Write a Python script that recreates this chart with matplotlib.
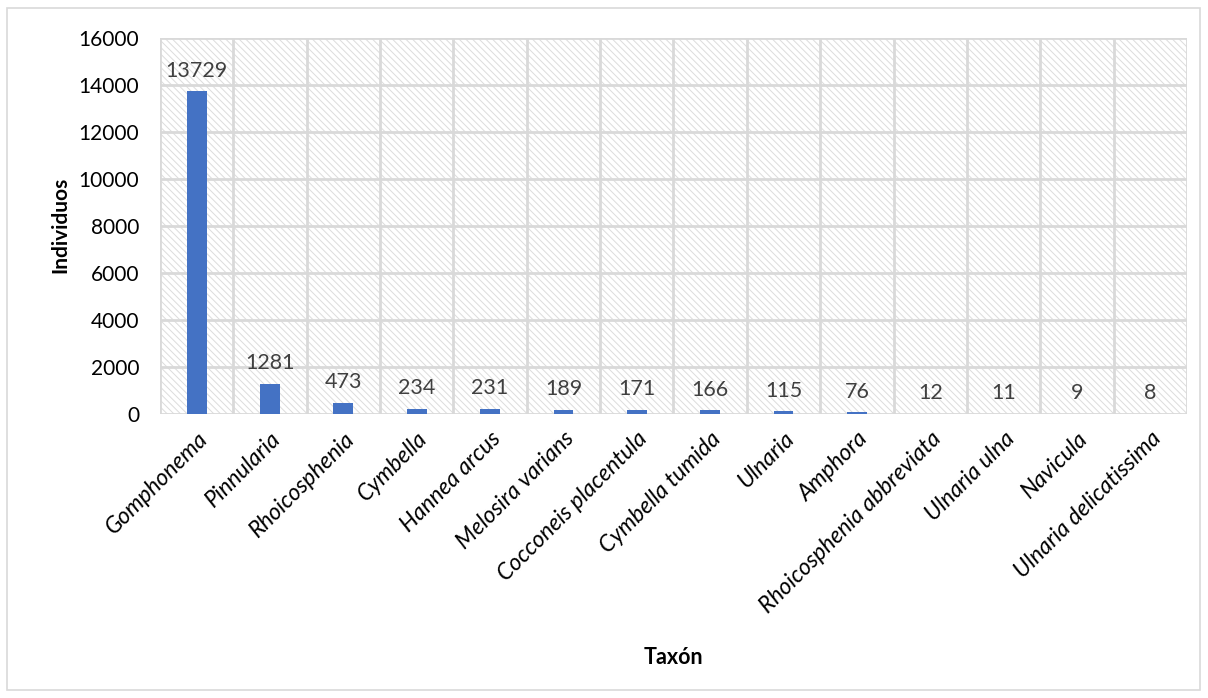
import matplotlib
matplotlib.use("Agg")
import matplotlib.pyplot as plt
from matplotlib.patches import Rectangle

taxa = ["Gomphonema", "Pinnularia", "Rhoicosphenia", "Cymbella", "Hannea arcus",
        "Melosira varians", "Cocconeis placentula", "Cymbella tumida", "Ulnaria",
        "Amphora", "Rhoicosphenia abbreviata", "Ulnaria ulna", "Navicula",
        "Ulnaria delicatissima"]
individuos = [13729, 1281, 473, 234, 231, 189, 171, 166, 115, 76, 12, 11, 9, 8]
yticks = [0, 2000, 4000, 6000, 8000, 10000, 12000, 14000, 16000]

plt.rcParams["font.family"] = ["Lato", "DejaVu Sans"]
plt.rcParams["hatch.linewidth"] = 0.7
grid_c = "#d9d9d9"

fig = plt.figure(figsize=(12.08, 6.98), dpi=100)
ax = fig.add_axes([160 / 1208, 1 - 414 / 698, 1027 / 1208, 376 / 698])

# hatched plot-area background
bg = Rectangle((0, 0), 1, 1, transform=ax.transAxes, facecolor="white",
               edgecolor="#dcdcdc", hatch="\\\\\\\\\\", linewidth=0, zorder=0)
ax.add_patch(bg)

x = list(range(len(taxa)))
ax.bar(x, individuos, width=0.27, color="#4472c4", zorder=3)
for xi, v in zip(x, individuos):
    ax.text(xi, v + 450, str(v), ha="center", va="bottom", fontsize=15.5,
            color="#404040", zorder=4)

ax.set_xlim(-0.5, len(taxa) - 0.5)
ax.set_ylim(0, 16000)
ax.set_yticks(yticks)
ax.set_yticklabels([str(t) for t in yticks], fontsize=15)
for t in yticks[1:]:
    ax.axhline(t, color=grid_c, lw=2, zorder=1)
for b in range(len(taxa) + 1):
    ax.axvline(b - 0.5, color=grid_c, lw=2, zorder=1)

ax.set_xticks(x)
ax.set_xticklabels(taxa, rotation=45, ha="right", rotation_mode="anchor",
                   fontsize=16.5, style="italic")
ax.tick_params(axis="y", length=0, pad=15)
ax.tick_params(axis="x", length=0, pad=10)
for s in ax.spines.values():
    s.set_visible(False)
ax.axhline(0, color=grid_c, lw=2, zorder=2)

fig.text(60 / 1208, 1 - 225 / 698, "Individuos", ha="center", va="center",
         rotation=90, fontsize=15, fontweight="bold")
fig.text(673 / 1208, 1 - 658 / 698, "Taxón", ha="center", va="center",
         fontsize=15.5, fontweight="bold")

fig.patches.append(Rectangle((7 / 1208, 1 - 690 / 698), 1193 / 1208, 682 / 698,
                             transform=fig.transFigure, fill=False,
                             edgecolor="#d9d9d9", lw=1.2))

fig.savefig("out.png", dpi=100)
